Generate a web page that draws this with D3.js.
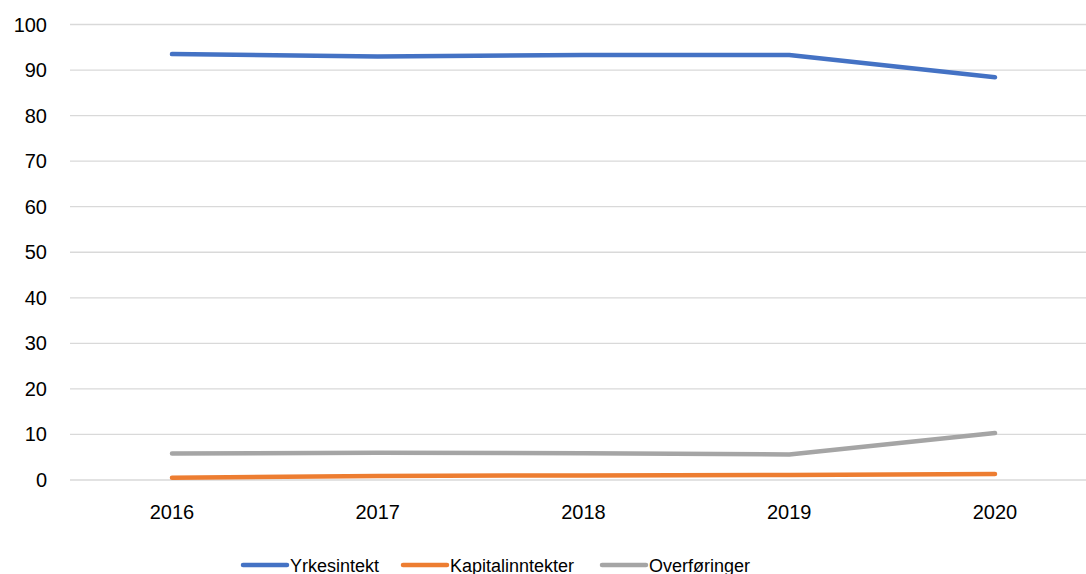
<!DOCTYPE html>
<html>
<head>
<meta charset="utf-8">
<script src="https://cdn.jsdelivr.net/npm/d3@7"></script>
<style>
  body { margin: 0; background: #fff; }
  svg { display: block; font-family: "Liberation Sans", Arial, sans-serif; }
</style>
</head>
<body>
<div id="chart"></div>
<script>
// data
const years = ["2016", "2017", "2018", "2019", "2020"];
const yrkesintekt = [93.5, 93.0, 93.3, 93.3, 88.4];
const kapitalinntekter = [0.5, 0.9, 1.0, 1.1, 1.3];
const overforinger = [5.8, 6.0, 5.9, 5.6, 10.3];
const yTicks = [0, 10, 20, 30, 40, 50, 60, 70, 80, 90, 100];

const seriesNames = ["Yrkesintekt", "Kapitalinntekter", "Overføringer"];
const seriesColors = ["#4472C4", "#ED7D31", "#A5A5A5"];
const seriesValues = [yrkesintekt, kapitalinntekter, overforinger];

const width = 1086, height = 574;

let svg = d3.select("#chart")
    .append("svg")
    .attr("width", width)
    .attr("height", height);

// plot area runs a bit past the right edge, like the reference
let x = d3.scalePoint()
    .domain(years)
    .range([172, 995]);

let y = d3.scaleLinear()
    .domain([0, 100])
    .range([480, 24.5]);

// gridlines
svg.append("g").selectAll("line")
    .data(yTicks)
    .join("line")
    .attr("x1", 70)
    .attr("x2", width)
    .attr("y1", d => y(d))
    .attr("y2", d => y(d))
    .attr("stroke", "#D9D9D9")
    .attr("stroke-width", 1.3);

// y tick labels
svg.append("g").selectAll("text")
    .data(yTicks)
    .join("text")
    .attr("x", 47)
    .attr("y", d => y(d))
    .attr("dy", "0.35em")
    .attr("text-anchor", "end")
    .attr("font-size", 20)
    .attr("fill", "#000")
    .text(d => d);

// x tick labels
svg.append("g").selectAll("text")
    .data(years)
    .join("text")
    .attr("x", d => x(d))
    .attr("y", 519)
    .attr("text-anchor", "middle")
    .attr("font-size", 20)
    .attr("fill", "#000")
    .text(d => d);

// lines
let lineGen = d3.line()
    .x((d, i) => x(years[i]))
    .y(d => y(d));

svg.append("g").selectAll("path")
    .data(seriesValues)
    .join("path")
    .attr("d", lineGen)
    .attr("fill", "none")
    .attr("stroke", (d, i) => seriesColors[i])
    .attr("stroke-width", 4.5)
    .attr("stroke-linecap", "round")
    .attr("stroke-linejoin", "round");

// legend
const legendX = [243, 403, 602];
let legend = svg.append("g").selectAll("g")
    .data(seriesNames)
    .join("g")
    .attr("transform", (d, i) => `translate(${legendX[i]}, 565)`);

legend.append("line")
    .attr("x1", 0)
    .attr("x2", 44)
    .attr("stroke", (d, i) => seriesColors[i])
    .attr("stroke-width", 4.5)
    .attr("stroke-linecap", "round");

legend.append("text")
    .attr("x", 47)
    .attr("y", 7)
    .attr("font-size", 18)
    .attr("fill", "#000")
    .text(d => d);
</script>
</body>
</html>
